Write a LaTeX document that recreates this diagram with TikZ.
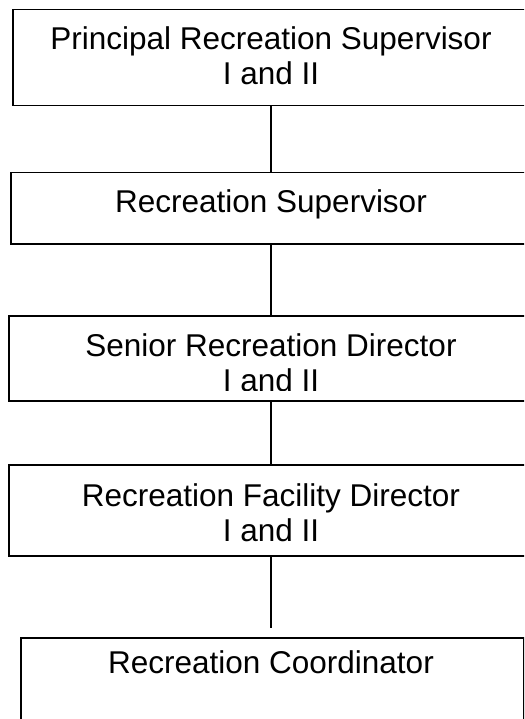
\documentclass[tikz,border=0pt]{standalone}
\usepackage{fontspec}
\setmainfont{Liberation Sans}
\usepackage{tikz}
\usetikzlibrary{positioning}

\begin{document}
\begin{tikzpicture}[x=1pt,y=-1pt,line width=1.5pt]
    \tikzset{box/.style={draw,rectangle,anchor=north west,inner sep=0pt},
             title/.style={anchor=base,inner sep=0pt,font=\fontsize{31.5}{36}\selectfont}}
    \useasboundingbox (0,0) rectangle (524,719);
    \clip (0,0) rectangle (524,719);
    % boxes
    \node[box,minimum width=540pt,minimum height=96pt] (prs) at (12,9) {};
    \node[box,minimum width=540pt,minimum height=71pt] (rs) at (10,172) {};
    \node[box,minimum width=540pt,minimum height=85pt] (srd) at (8,315) {};
    \node[box,minimum width=540pt,minimum height=91pt] (rfd) at (8,464) {};
    \node[box,minimum width=503pt,minimum height=110pt] (rc) at (20,637) {};
    % titles
    \node[title] (prs1) at (271,50) {Principal Recreation Supervisor};
    \node[title] (prs2) at (271,85) {I and II};
    \node[title] (rs1) at (271,213) {Recreation Supervisor};
    \node[title] (srd1) at (271,356) {Senior Recreation Director};
    \begin{scope}
      \clip (8,360) rectangle (535,390.5);
      \node[title] (srd2) at (271,391.5) {I and II};
    \end{scope}
    \node[title] (rfd1) at (271,506) {Recreation Facility Director};
    \node[title] (rfd2) at (271,541) {I and II};
    \node[title] (rc1) at (271,673) {Recreation Coordinator};
    % lines
    \coordinate (rctop) at (271,628);
    \draw (prs.south -| rctop) -- (rs.north -| rctop);
    \draw (rs.south -| rctop) -- (srd.north -| rctop);
    \draw (srd.south -| rctop) -- (rfd.north -| rctop);
    \draw (rfd.south -| rctop) -- (rctop);
\end{tikzpicture}
\end{document}
